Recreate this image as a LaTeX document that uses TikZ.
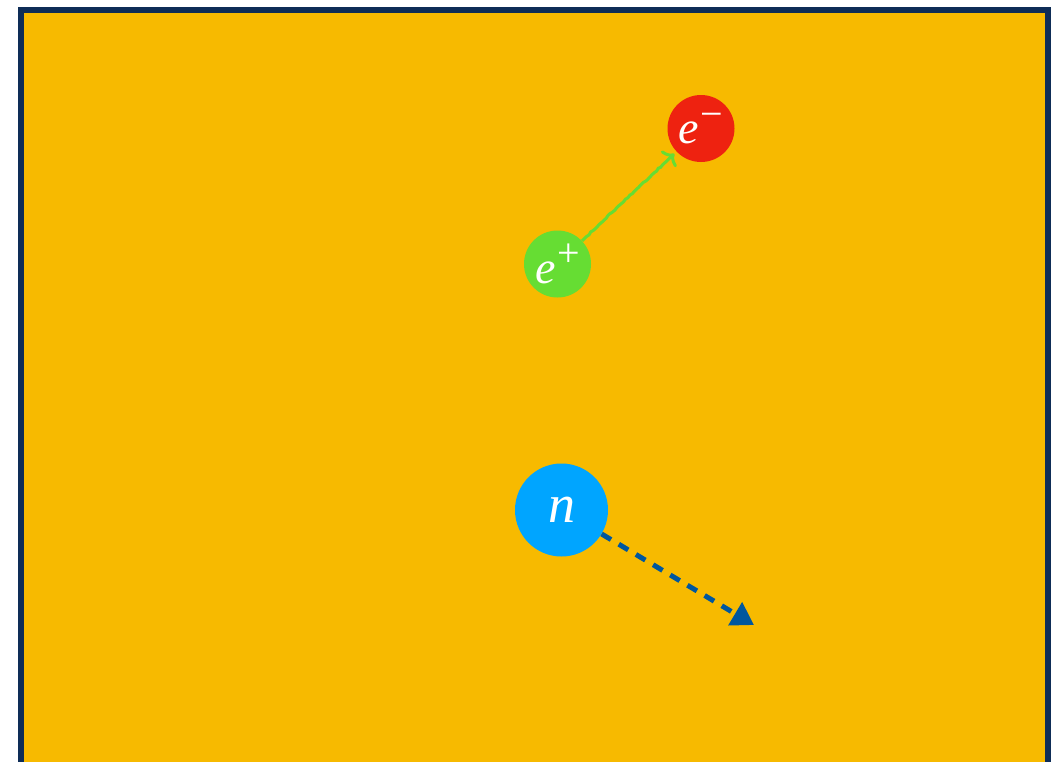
\documentclass[tikz,border=0pt]{standalone}
\usepackage{fontspec}
\setmainfont{Liberation Serif}
\usetikzlibrary{arrows.meta,decorations.pathmorphing,calc}
\definecolor{bgyellow}{HTML}{F7BA00}
\definecolor{framenavy}{HTML}{0E2D57}
\definecolor{elred}{HTML}{EE2210}
\definecolor{posgreen}{HTML}{66DD33}
\definecolor{neublue}{HTML}{00A5FF}
\definecolor{dashblue}{HTML}{00579E}
\newcommand{\partsup}[2]{\textit{#1}\kern2pt\raisebox{0.36em}{\fontsize{40}{40}\selectfont #2}}
\tikzset{
  particle/.style={circle, inner sep=0pt, text=white, font=\fontsize{46}{50}\selectfont},
}
\begin{document}
\begin{tikzpicture}[x=1pt,y=-1pt]
\clip (0,0) rectangle (1053,761);
\draw[line width=6pt, draw=framenavy, fill=bgyellow] (21,10) rectangle (1047.5,800);
\node[particle, fill=elred, minimum size=67pt] (em) at (701,128.5) {\partsup{e}{\char"2212}};
\node[particle, fill=posgreen, minimum size=67pt] (ep) at (557.5,264) {\partsup{e}{+}};
\node[particle, fill=neublue, minimum size=93pt, font=\fontsize{54}{60}\selectfont] (n) at (561.5,510) {\textit{n}};
\coordinate (nend) at (754,625);
\draw[posgreen, line width=3pt, shorten >=3pt, -{To[length=9pt,width=22pt]}, decorate,
  decoration={random steps, segment length=3pt, amplitude=0.6pt, post length=12pt}]
  (ep) -- (em);
\draw[dashblue, line width=5pt, dash pattern=on 11pt off 9pt,
  -{Triangle[length=22pt,width=26pt]}] (n) -- (nend);
\end{tikzpicture}
\end{document}
